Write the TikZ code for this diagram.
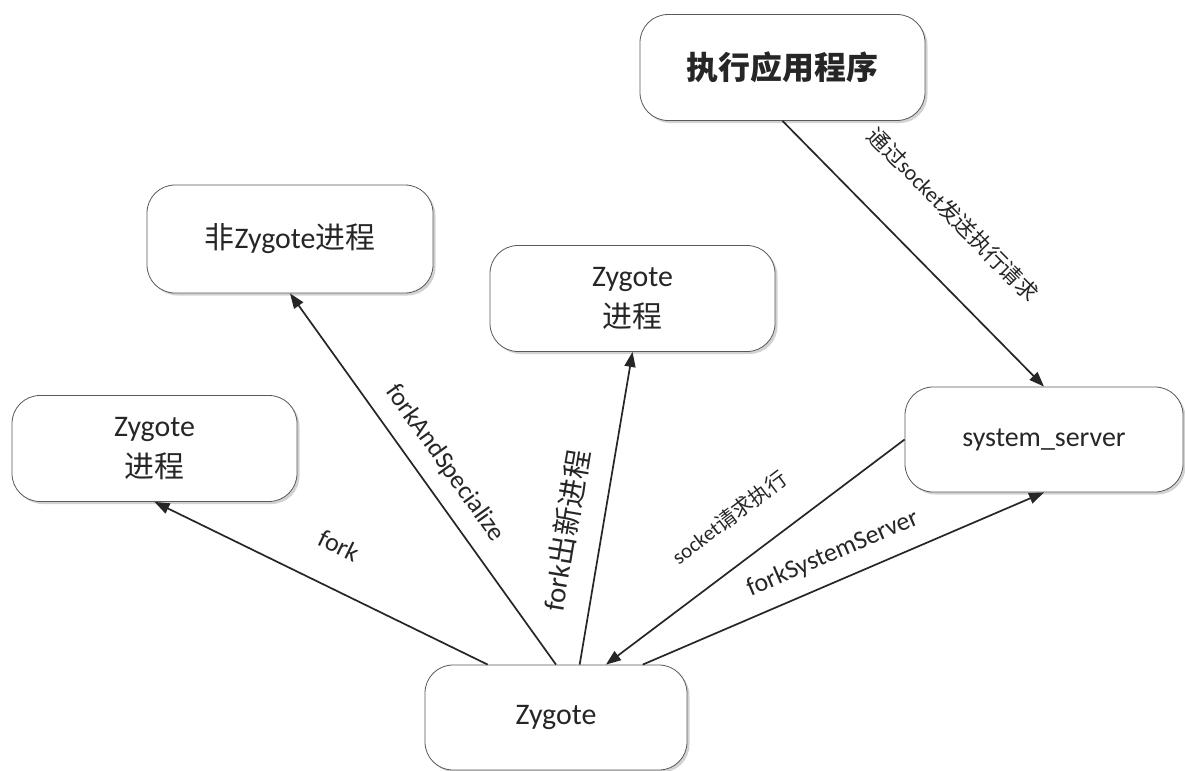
\documentclass[tikz,border=0pt]{standalone}
\usepackage{fontspec}
\setmainfont{Carlito}
\newfontfamily\zh{Noto Sans CJK SC}
\usetikzlibrary{arrows.meta,shadows,calc}
\tikzset{
  box/.style={draw=black!65, line width=0.8bp, rounded corners=28bp, fill=white,
    minimum width=285bp, minimum height=106bp, inner sep=0pt,
    drop shadow={shadow xshift=2.5bp, shadow yshift=-2.5bp, fill=black!35},
    text=black!85, font=\fontsize{30}{42}\selectfont, align=center},
  conn/.style={draw=black!85, line width=1.7bp, -{Triangle[length=15bp,width=11bp]}},
  lbl/.style={midway, sloped, above=15bp, inner sep=0pt, text=black!85,
    font=\fontsize{26}{30}\selectfont},
  lblsmall/.style={lbl, above=18bp, font=\fontsize{21}{26}\selectfont},
}
\begin{document}
\begin{tikzpicture}[x=1bp,y=-1bp]
\useasboundingbox (0,0) rectangle (1185,771);
\fill[white] (0,0) rectangle (1185,771);
% boxes
\node[box, font={\zh\bfseries\fontsize{32}{40}\selectfont}] (exec) at (782.5,67.5) {执行应用程序};
\node[box, minimum width=286bp, minimum height=108bp] (nonz) at (290,239) {{\zh 非}Zygote{\zh 进程}};
\node[box] (zmid) at (632.5,298.5) {Zygote\\{\zh 进程}};
\node[box] (zleft) at (154.5,448.5) {Zygote\\{\zh 进程}};
\node[box, minimum width=278bp, minimum height=105bp, font=\fontsize{28}{34}\selectfont] (ss) at (1044,439.5) {system\_server};
\node[box, minimum width=262bp, minimum height=105bp] (zyg) at (556,717.5) {Zygote};
% connectors
\draw[conn] (exec.south) -- node[lblsmall, above=12bp, font=\fontsize{22}{26}\selectfont] {{\zh 通过}socket{\zh 发送执行请求}} (ss.north);
\draw[conn] ($(zyg.north west)!0.24!(zyg.north east)$) -- node[lbl, above=17bp] {fork} (zleft.south);
\draw[conn] (zyg.north) -- node[lbl] {forkAndSpecialize} (nonz.south);
\draw[conn] ($(zyg.north west)!0.59!(zyg.north east)$) -- node[lbl, pos=0.41, above=7bp, font=\fontsize{29}{32}\selectfont] {fork{\zh 出新进程}} (zmid.south);
\draw[conn] (ss.west) -- node[lblsmall] {socket{\zh 请求执行}} ($(zyg.north west)!0.69!(zyg.north east)$);
\draw[conn] ($(zyg.north west)!0.83!(zyg.north east)$) -- node[lbl] {forkSystemServer} (ss.south);
\end{tikzpicture}
\end{document}
